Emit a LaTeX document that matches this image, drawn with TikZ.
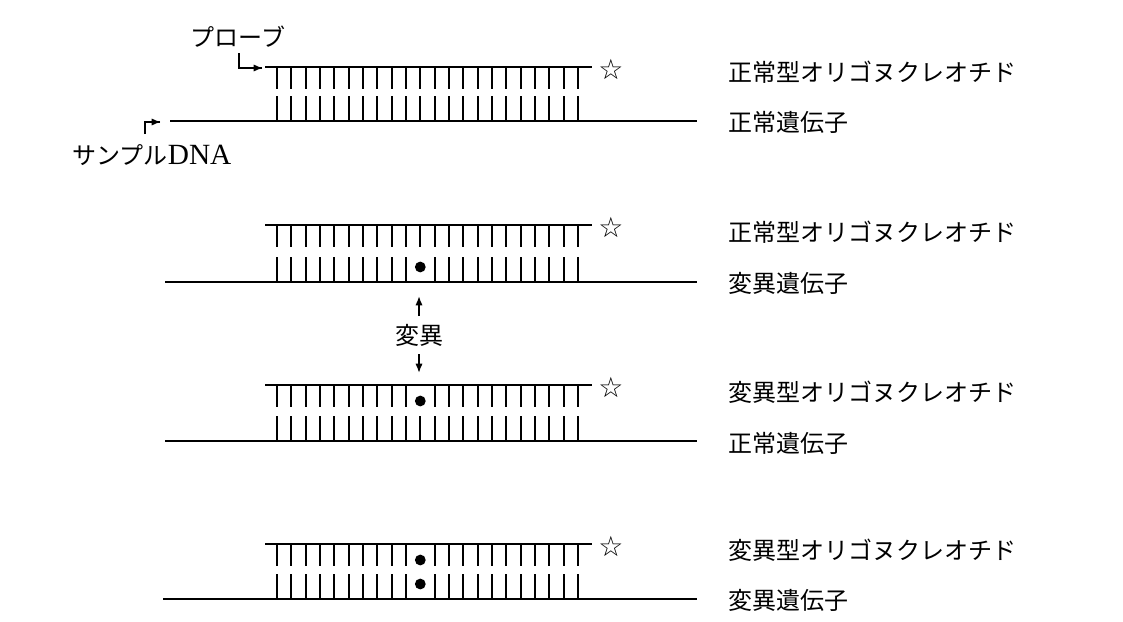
\documentclass[tikz,border=0pt]{standalone}
\usepackage{fontspec}
\setmainfont{Liberation Serif}
\newfontfamily\jp{Noto Sans CJK JP}
\newfontfamily\symf{DejaVu Sans}
\usetikzlibrary{arrows.meta}
\begin{document}
\begin{tikzpicture}[x=0.75pt,y=-0.75pt,
  strand/.style={line width=1.9pt,line cap=butt},
  basetick/.style={line width=1.4pt},
  dotmark/.style={fill=black,draw=none},
  arr/.style={line width=1.3pt,-{Latex[length=7pt,width=5.5pt]}},
  lbl/.style={font=\jp\fontsize{18}{18}\selectfont,anchor=west,inner sep=0pt},
  jtxt/.style={font=\jp\fontsize{18}{18}\selectfont,inner sep=0pt},
  starmark/.style={font=\symf\fontsize{21}{21}\selectfont,inner sep=0pt}]
\useasboundingbox (0,0) rectangle (1123,621);
\fill[white] (0,0) rectangle (1123,621);

% #1 probe y, #2 strand y, #3 top dot (1/0), #4 bottom dot (1/0), #5 strand start x
\newcommand\duplexpanel[5]{%
  \draw[strand] (265,#1) -- (592,#1);
  \draw[strand] (#5,#2) -- (697,#2);
  \foreach \i in {0,...,9,11,12,...,21}{%
    \draw[basetick] ({277+14.33*\i},#1) -- ++(0,22);
    \draw[basetick] ({277+14.33*\i},#2) -- ++(0,-25);
  }
  \ifnum#3=1 \fill[dotmark] (420.3,{#1+16}) circle (5.4);
  \else \draw[basetick] (420.3,#1) -- ++(0,22); \fi
  \ifnum#4=1 \fill[dotmark] (420.3,{#2-15}) circle (5.4);
  \else \draw[basetick] (420.3,#2) -- ++(0,-25); \fi
  \node[starmark] at (611,{#1+2}) {☆};
}

% panel 1
\duplexpanel{67}{121}{0}{0}{170}
\node[lbl] (l1a) at (728,72) {正常型オリゴヌクレオチド};
\node[lbl] (l1b) at (728,122) {正常遺伝子};
\node[jtxt] (probe) at (238,37) {プローブ};
\coordinate (pa) at (239,53);
\coordinate (pb) at (263,68);
\draw[line width=1.3pt] (pa) |- ([xshift=-1pt]pb);
\draw[arr] ([xshift=-10pt]pb) -- (pb);
\node[inner sep=0pt] (sample) at (152,155) {{\jp\fontsize{18}{18}\selectfont サンプル}{\fontsize{22}{22}\selectfont DNA}};
\coordinate (sa) at (145,134);
\coordinate (sb) at (161,122);
\draw[line width=1.3pt] (sa) |- ([xshift=-1pt]sb);
\draw[arr] ([xshift=-9pt]sb) -- (sb);

% panel 2
\duplexpanel{225}{282}{0}{1}{165}
\node[lbl] (l2a) at (728,232) {正常型オリゴヌクレオチド};
\node[lbl] (l2b) at (728,283) {変異遺伝子};

% mutation marker
\node[jtxt] (mut) at (419,335) {変異};
\coordinate (mt1) at (419,316);
\coordinate (mh1) at (419,296);
\coordinate (mt2) at (419,354);
\coordinate (mh2) at (419,373);
\draw[arr] (mt1) -- (mh1);
\draw[arr] (mt2) -- (mh2);

% panel 3
\duplexpanel{385}{441}{1}{0}{165}
\node[lbl] (l3a) at (728,392) {変異型オリゴヌクレオチド};
\node[lbl] (l3b) at (728,443) {正常遺伝子};

% panel 4
\duplexpanel{544}{599}{1}{1}{163}
\node[lbl] (l4a) at (728,550) {変異型オリゴヌクレオチド};
\node[lbl] (l4b) at (728,600) {変異遺伝子};
\end{tikzpicture}
\end{document}
